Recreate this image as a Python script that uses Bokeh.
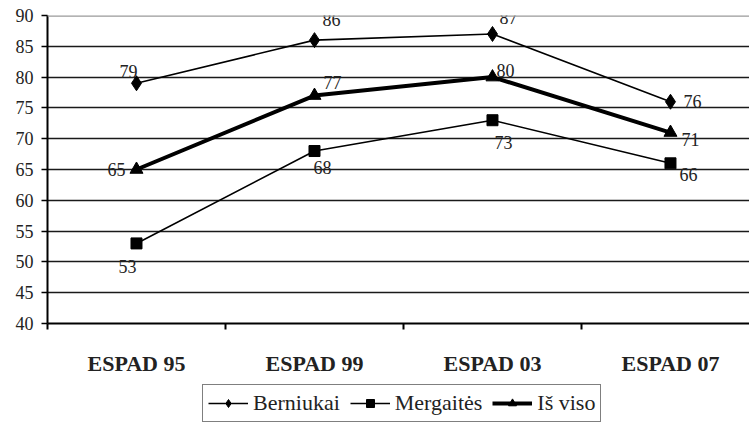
from bokeh.plotting import figure
from bokeh.layouts import column
from bokeh.models import (Range1d, FixedTicker, LinearAxis, Span, Legend, LegendItem, ColumnDataSource)
from bokeh.core.properties import value
from bokeh.embed import file_html
from bokeh.resources import INLINE

categories = ["ESPAD 95", "ESPAD 99", "ESPAD 03", "ESPAD 07"]
berniukai = [79, 86, 87, 76]
mergaites = [53, 68, 73, 66]
is_viso = [65, 77, 80, 71]
y_ticks = [40, 45, 50, 55, 60, 65, 70, 75, 80, 85, 90]

# label offsets (style, screen px)
off_b = ([-8, 17, 16, 22], [-12, -21, -16, 0])
off_m = ([-9, 8, 11, 18], [23, 16, 22, 11])
off_t = ([-20, 18, 13, 20], [0, -13, -7, 7])

FONT = "Liberation Serif"
xs = [i + 0.5 for i in range(len(categories))]

p = figure(width=749, height=378, output_backend="svg", toolbar_location=None,
           x_range=Range1d(0, 3.944), y_range=Range1d(40, 90),
           min_border_left=47, min_border_right=0, min_border_top=15, min_border_bottom=53,
           x_axis_location=None, y_axis_location=None)
p.outline_line_color = None
p.background_fill_color = "white"
p.border_fill_color = "white"
p.xgrid.visible = False
p.ygrid.ticker = FixedTicker(ticks=y_ticks[1:-1])
p.ygrid.grid_line_color = "#1a1a1a"
p.ygrid.grid_line_width = 1.6

top = Span(location=90, dimension="width", line_color="#9a9a9a", line_width=2.5)
p.add_layout(top)

yax = LinearAxis(ticker=FixedTicker(ticks=y_ticks, minor_ticks=[]))
yax.axis_line_color = "black"
yax.axis_line_width = 2
yax.major_tick_line_color = "black"
yax.major_tick_line_width = 1.6
yax.major_tick_out = 6
yax.major_tick_in = 0
yax.major_label_text_font = FONT
yax.major_label_text_font_size = "18px"
yax.major_label_text_color = "#222222"
yax.major_label_standoff = 8
p.add_layout(yax, "left")

xax = LinearAxis(ticker=FixedTicker(ticks=xs, minor_ticks=[0, 1, 2, 3, 4]))
xax.major_label_overrides = {x: c for x, c in zip(xs, categories)}
xax.axis_line_color = "black"
xax.axis_line_width = 2
xax.major_tick_line_color = None
xax.major_tick_out = 0
xax.major_tick_in = 0
xax.minor_tick_line_color = "black"
xax.minor_tick_line_width = 2
xax.minor_tick_out = 6
xax.minor_tick_in = 0
xax.major_label_text_font = FONT
xax.major_label_text_font_style = "bold"
xax.major_label_text_font_size = "22px"
xax.major_label_text_color = "#222222"
xax.major_label_standoff = 21
p.add_layout(xax, "below")

# legend figure (below the chart)
q = figure(width=749, height=46, output_backend="svg", toolbar_location=None,
           x_range=Range1d(0, 1), y_range=Range1d(0, 1),
           min_border_left=0, min_border_right=0, min_border_top=0, min_border_bottom=0,
           x_axis_location=None, y_axis_location=None)
q.outline_line_color = None
q.grid.visible = False
q.border_fill_color = "white"
q.background_fill_color = "white"

series = [
    ("Berniukai", berniukai, "diamond", 15, 1.6, off_b),
    ("Mergaitės", mergaites, "square", 11, 1.6, off_m),
    ("Iš viso", is_viso, "triangle", 13, 4, off_t),
]
items = []
for name, vals, marker, size, lw, off in series:
    src = ColumnDataSource(dict(x=xs, y=vals, lab=[str(v) for v in vals], dx=off[0], dy=off[1]))
    p.line("x", "y", source=src, line_color="black", line_width=lw)
    p.scatter("x", "y", source=src, marker=marker, size=size, fill_color="black", line_color="black")
    p.text("x", "y", text="lab", source=src, x_offset="dx", y_offset="dy",
           text_font=value(FONT), text_font_size="18px", text_color="#222222",
           text_align="center", text_baseline="middle")
    # off-screen proxy renderers used only to draw the legend glyphs
    proxy = ColumnDataSource(dict(x=[-10, -11], y=[-10, -10]))
    l1 = q.line("x", "y", source=proxy, line_color="black", line_width=lw)
    l2 = q.scatter("x", "y", source=proxy, marker=marker, size=size - 2, fill_color="black", line_color="black")
    items.append(LegendItem(label=name, renderers=[l1, l2]))

leg = Legend(items=items, orientation="horizontal", location=(155, 2))
leg.label_text_font = FONT
leg.label_text_font_size = "22px"
leg.label_text_color = "#222222"
leg.glyph_width = 40
leg.glyph_height = 20
leg.label_standoff = 5
leg.spacing = 10
leg.padding = 5
leg.margin = 0
leg.border_line_color = "black"
leg.border_line_width = 1.5
leg.background_fill_color = "white"
leg.background_fill_alpha = 1
q.add_layout(leg, "center")

open("out.html", "w").write(file_html(column(p, q, spacing=0), INLINE))
